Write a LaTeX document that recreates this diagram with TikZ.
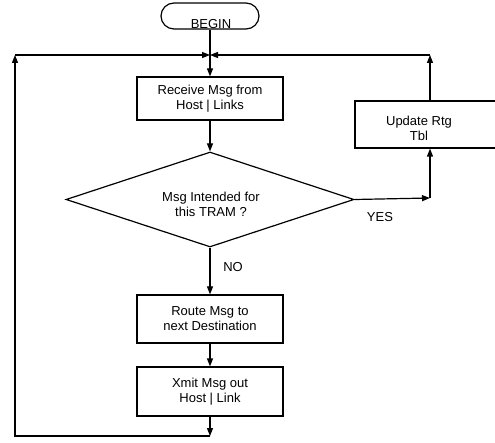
\documentclass[tikz,border=0pt]{standalone}
\usepackage{fontspec}
\setmainfont{Liberation Sans}
\usetikzlibrary{arrows.meta,shapes.geometric}
\begin{document}
\begin{tikzpicture}[x=1pt,y=-1pt, line width=1.2pt,
  >={Triangle[length=8pt,width=6pt]},
  box/.style={draw, rectangle, minimum width=146pt, align=center, inner sep=0pt, font=\fontsize{13}{15}\selectfont},
  lbl/.style={font=\fontsize{13}{15}\selectfont, align=center, inner sep=0pt}]
\clip (0,0) rectangle (495,443);
\fill[white] (0,0) rectangle (495,443);
\node[draw, rounded corners=13pt, minimum width=98pt, minimum height=26pt, inner sep=0pt] (begin) at (210,16) {};
\node[lbl] (begint) at (211,24) {BEGIN};
\coordinate (j) at (210,55);
\coordinate (tl) at (15,55);
\coordinate (bl) at (15,436);
\coordinate (bm) at (210,436);
\coordinate (tr) at (430,55);
\coordinate (yr) at (430,198);
\node[box, minimum height=43pt] (recv) at (210,98.5) {Receive Msg from\\Host | Links};
\node[diamond, draw, minimum width=288pt, minimum height=95pt, inner sep=0pt] (dec) at (210,199.5) {};
\node[lbl] (dect) at (211,204) {Msg Intended for\\this TRAM ?};
\node[box, minimum height=48pt] (route) at (210,319) {Route Msg to\\next Destination};
\node[box, minimum height=49pt] (xmit) at (210,391.5) {Xmit Msg out\\Host | Link};
\node[draw, minimum width=150pt, minimum height=47pt, inner sep=0pt] (upd) at (430,124.5) {};
\node[lbl] (updt) at (419,128) {Update Rtg\\Tbl};
\node[lbl] (yes) at (380,217) {YES};
\node[lbl] (no) at (233,267.5) {NO};
\draw (begin.south) -- (j);
\draw[->] (j) -- (recv.north);
\draw[->] (recv.south) -- (dec.north);
\draw[->] (dec.south) -- (route.north);
\draw[->] (route.south) -- (xmit.north);
\draw[->] (xmit.south) -- (bm);
\draw[->] (bm) -- (bl) -- (tl);
\draw[->] (tl) -- (j);
\draw[->] (dec.east) -- (yr);
\draw[->] (yr) -- (upd.south);
\draw[->] (upd.north) -- (tr);
\draw[->] (tr) -- (j);
\end{tikzpicture}
\end{document}
